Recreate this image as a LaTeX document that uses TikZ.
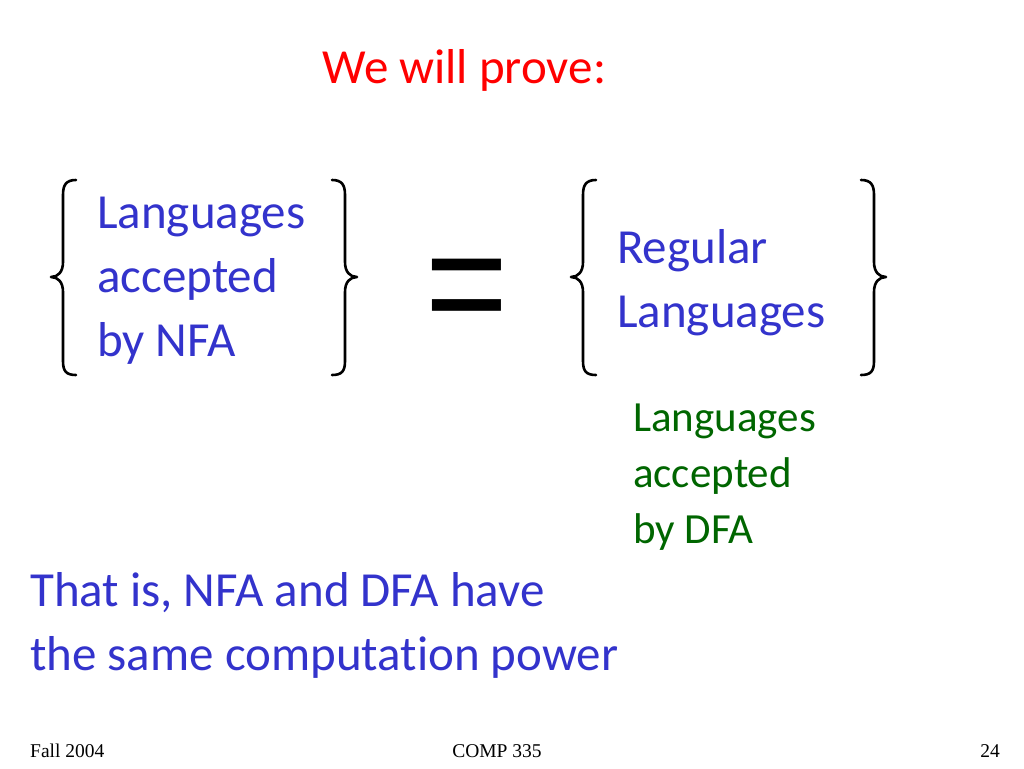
\documentclass[tikz,border=0pt]{standalone}
\usepackage{fontspec}
\setmainfont{Carlito}[Ligatures=NoCommon]
\newfontfamily\footfont{Liberation Serif}
\newfontfamily\symfont{Liberation Sans}
\definecolor{textblue}{RGB}{51,51,204}
\definecolor{textgreen}{RGB}{0,102,0}
\definecolor{textred}{RGB}{255,0,0}

\begin{document}
\begin{tikzpicture}[x=1pt,y=-1pt,
    bigtext/.style={inner sep=0pt, anchor=base west, align=left, text=textblue, font=\fontsize{49}{64}\selectfont},
    smalltext/.style={bigtext, text=textgreen, font=\fontsize{43}{56}\selectfont},
    foot/.style={inner sep=0pt, anchor=base, font=\footfont\fontsize{19.5}{20}\selectfont},
    brace/.style={line width=2.6pt, line cap=round, line join=round}]
  \useasboundingbox[fill=white] (0,0) rectangle (1024,768);

  \node[bigtext, text=textred] (title) at (322,83) {We will prove:};

  % multi-line nodes sit on the baseline of their last line
  \node[bigtext] (nfa) at (97,356) {Languages\\accepted\\by NFA};
  \node[inner sep=0pt, anchor=base, font=\symfont\fontsize{142}{142}\selectfont, yscale=1.14] (equals) at (467,338) {=};
  \node[bigtext] (regular) at (617,327) {Regular\\Languages};
  \node[smalltext] (dfa) at (633,543) {Languages\\accepted\\by DFA};

  % curly brackets round both sets
  \foreach \x/\s in {63/1,345/-1,583/1,874/-1}
    \draw[brace] ({\x+13*\s},180) .. controls ({\x+3*\s},180) and (\x,185) .. (\x,195)
      -- (\x,262) .. controls (\x,272) and ({\x-5*\s},277) .. ({\x-12*\s},277)
      .. controls ({\x-5*\s},277) and (\x,282) .. (\x,292)
      -- (\x,361) .. controls (\x,371) and ({\x+3*\s},375) .. ({\x+13*\s},375);

  \node[bigtext] (power) at (30,670) {That is, NFA and DFA have\\the same computation power};

  \node[foot, anchor=base west] (season) at (30,757) {Fall 2004};
  \node[foot] (course) at (497,757) {COMP 335};
  \node[foot, anchor=base east] (page) at (1000,757) {24};
\end{tikzpicture}
\end{document}
